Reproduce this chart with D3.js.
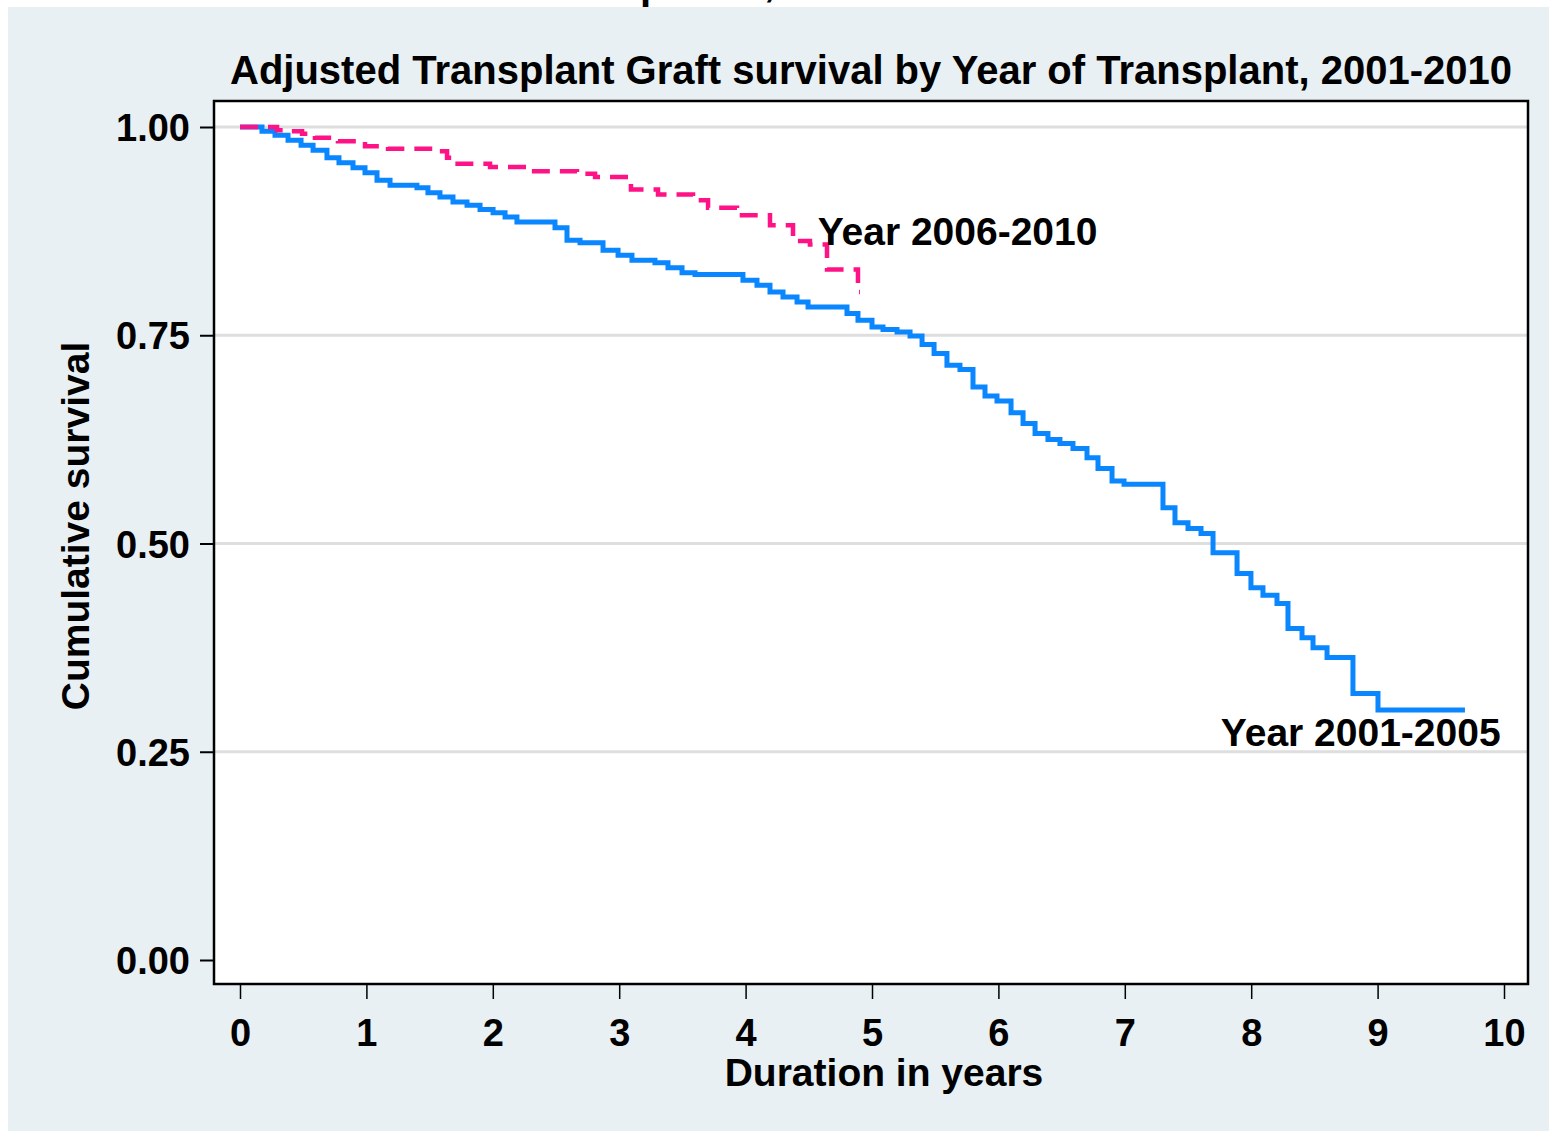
<!DOCTYPE html>
<html>
<head>
<meta charset="utf-8">
<script src="https://cdn.jsdelivr.net/npm/d3@7"></script>
<style>
  body { margin: 0; background: #fff; }
  text { font-family: "Liberation Sans", Arial, Helvetica, sans-serif; font-weight: bold; fill: #000; }
</style>
</head>
<body>
<div id="vis"></div>
<script>
// survival steps, 2001-2005 cohort
var earlyTimes = [0, 0.174, 0.277, 0.380, 0.483, 0.578, 0.688, 0.783, 0.894, 0.989,
    1.084, 1.187, 1.400, 1.487, 1.582, 1.685, 1.796, 1.899, 2.002, 2.097,
    2.191, 2.492, 2.587, 2.690, 2.872, 2.991, 3.101, 3.283, 3.386, 3.497,
    3.600, 3.979, 4.090, 4.193, 4.296, 4.407, 4.494, 4.802, 4.889, 5.000,
    5.087, 5.198, 5.301, 5.396, 5.491, 5.593, 5.696, 5.799, 5.894, 5.989,
    6.100, 6.195, 6.290, 6.392, 6.487, 6.590, 6.701, 6.788, 6.899, 6.994,
    7.302, 7.397, 7.500, 7.603, 7.698, 7.888, 7.998, 8.093, 8.204, 8.291,
    8.402, 8.489, 8.600, 8.805, 9.003, 9.691];
var earlySurv = [1.000, 0.995, 0.990, 0.984, 0.978, 0.972, 0.963, 0.957, 0.951, 0.945,
    0.936, 0.930, 0.927, 0.921, 0.916, 0.910, 0.906, 0.901, 0.897, 0.892,
    0.886, 0.879, 0.864, 0.861, 0.852, 0.846, 0.840, 0.837, 0.831, 0.825,
    0.823, 0.816, 0.810, 0.802, 0.796, 0.790, 0.784, 0.776, 0.768, 0.760,
    0.757, 0.754, 0.749, 0.739, 0.728, 0.714, 0.709, 0.688, 0.677, 0.671,
    0.657, 0.644, 0.632, 0.625, 0.620, 0.614, 0.603, 0.590, 0.575, 0.571,
    0.543, 0.525, 0.518, 0.512, 0.489, 0.464, 0.447, 0.438, 0.428, 0.398,
    0.387, 0.375, 0.363, 0.320, 0.300, 0.300];

// survival steps, 2006-2010 cohort
var lateTimes = [0, 0.293, 0.380, 0.491, 0.593, 0.775, 0.989, 1.171, 1.503, 1.638,
    1.701, 1.978, 2.294, 2.666, 2.809, 3.093, 3.307, 3.584, 3.703, 3.932,
    4.193, 4.375, 4.509, 4.644, 4.889, 4.905];
var lateSurv = [1.000, 0.996, 0.995, 0.992, 0.987, 0.983, 0.977, 0.974, 0.971, 0.963,
    0.956, 0.952, 0.947, 0.944, 0.940, 0.925, 0.919, 0.912, 0.903, 0.894,
    0.882, 0.863, 0.859, 0.829, 0.802, 0.802];

var xTicks = [0, 1, 2, 3, 4, 5, 6, 7, 8, 9, 10];
var yTicks = [0, 0.25, 0.5, 0.75, 1];
var seriesLabels = ["Year 2001-2005", "Year 2006-2010"];

var W = 1551, H = 1133;
var frame = {left: 214, right: 1528, top: 101, bottom: 984};

var svg = d3.select("#vis").append("svg")
    .attr("width", W)
    .attr("height", H);

svg.append("rect")
    .attr("x", 8).attr("y", 7)
    .attr("width", 1541).attr("height", 1124)
    .attr("fill", "#e8f0f3");

// bits of a cropped line above the chart (cut off in the original too)
svg.append("text").attr("x", 640).attr("y", -1).attr("font-size", 40).text("p");
svg.append("text").attr("x", 764).attr("y", -4).attr("font-size", 40).text(",");

var x = d3.scaleLinear().domain([0, 10]).range([240, 1504]);
var y = d3.scaleLinear().domain([0, 1]).range([960, 127]);

svg.append("rect")
    .attr("x", frame.left).attr("y", frame.top)
    .attr("width", frame.right - frame.left)
    .attr("height", frame.bottom - frame.top)
    .attr("fill", "#fff");

// gridlines
svg.append("g")
    .selectAll("line")
    .data(yTicks.filter(function(d) { return d > 0; }))
    .enter().append("line")
    .attr("x1", frame.left).attr("x2", frame.right)
    .attr("y1", function(d) { return y(d); })
    .attr("y2", function(d) { return y(d); })
    .attr("stroke", "#dedede")
    .attr("stroke-width", 3);

function toPoints(ts, ss) {
    return ts.map(function(t, i) { return [t, ss[i]]; });
}

var step = d3.line()
    .x(function(d) { return x(d[0]); })
    .y(function(d) { return y(d[1]); })
    .curve(d3.curveStepAfter);

svg.append("path")
    .datum(toPoints(earlyTimes, earlySurv))
    .attr("d", step)
    .attr("fill", "none")
    .attr("stroke", "#0a86ff")
    .attr("stroke-width", 5);

svg.append("path")
    .datum(toPoints(lateTimes, lateSurv))
    .attr("d", step)
    .attr("fill", "none")
    .attr("stroke", "#ff1286")
    .attr("stroke-width", 4.5)
    .attr("stroke-dasharray", "18,10");

// frame
svg.append("rect")
    .attr("x", frame.left).attr("y", frame.top)
    .attr("width", frame.right - frame.left)
    .attr("height", frame.bottom - frame.top)
    .attr("fill", "none")
    .attr("stroke", "#000")
    .attr("stroke-width", 2.5);

// y axis
var yAxis = svg.append("g")
    .attr("transform", "translate(" + frame.left + ",0)")
    .call(d3.axisLeft(y).tickValues(yTicks).tickFormat(d3.format(".2f")).tickSize(14).tickPadding(10));
yAxis.select(".domain").remove();
yAxis.selectAll(".tick line").attr("stroke", "#000").attr("stroke-width", 2);
yAxis.selectAll(".tick text")
    .attr("font-size", 38)
    .attr("font-family", "Liberation Sans, Arial, sans-serif")
    .attr("font-weight", "bold")
    .attr("dy", "0.36em");

// x axis
var xAxis = svg.append("g")
    .attr("transform", "translate(0," + frame.bottom + ")")
    .call(d3.axisBottom(x).tickValues(xTicks).tickFormat(d3.format("d")).tickSize(15).tickPadding(20));
xAxis.select(".domain").remove();
xAxis.selectAll(".tick line").attr("stroke", "#000").attr("stroke-width", 1.5);
xAxis.selectAll(".tick text")
    .attr("font-size", 38)
    .attr("font-family", "Liberation Sans, Arial, sans-serif")
    .attr("font-weight", "bold")
    .attr("dy", "0.72em");

// titles
svg.append("text")
    .attr("x", (frame.left + frame.right) / 2)
    .attr("y", 84)
    .attr("text-anchor", "middle")
    .attr("font-size", 40)
    .text("Adjusted Transplant Graft survival by Year of Transplant, 2001-2010");

svg.append("text")
    .attr("x", 884)
    .attr("y", 1086)
    .attr("text-anchor", "middle")
    .attr("font-size", 39)
    .text("Duration in years");

svg.append("text")
    .attr("transform", "translate(89,526) rotate(-90)")
    .attr("text-anchor", "middle")
    .attr("font-size", 39)
    .text("Cumulative survival");

// series labels
svg.append("text")
    .attr("x", x(7.76)).attr("y", y(0.257))
    .attr("font-size", 39)
    .text(seriesLabels[0]);

svg.append("text")
    .attr("x", x(4.57)).attr("y", y(0.858))
    .attr("font-size", 39)
    .text(seriesLabels[1]);
</script>
</body>
</html>
